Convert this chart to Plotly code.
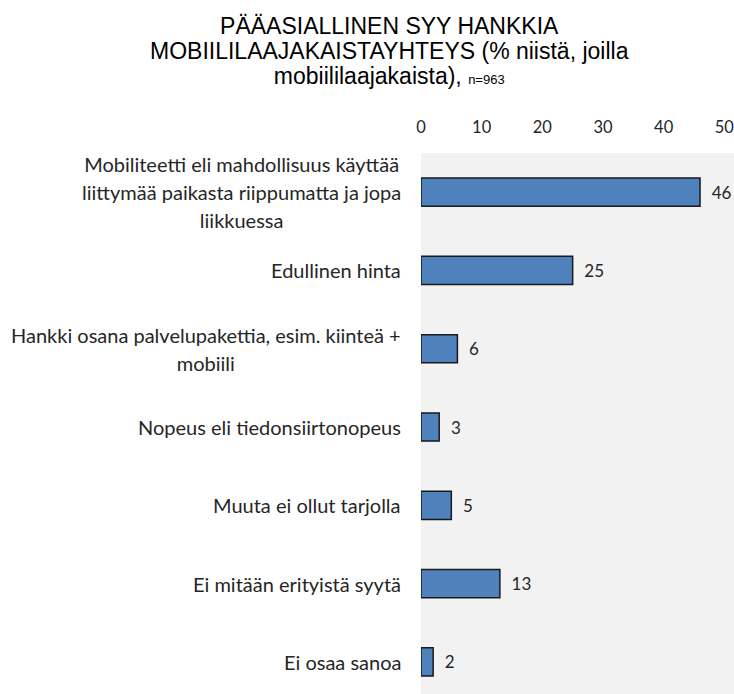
import plotly.graph_objects as go

categories = [
    "Mobiliteetti eli mahdollisuus käyttää<br>liittymää paikasta riippumatta ja jopa<br>liikkuessa",
    "Edullinen hinta",
    "Hankki osana palvelupakettia, esim. kiinteä +<br>mobiili",
    "Nopeus eli tiedonsiirtonopeus",
    "Muuta ei ollut tarjolla",
    "Ei mitään erityistä syytä",
    "Ei osaa sanoa",
]
values = [46, 25, 6, 3, 5, 13, 2]
x_ticks = [0, 10, 20, 30, 40, 50]

title_lines = ["PÄÄASIALLINEN SYY HANKKIA",
               "MOBIILILAAJAKAISTAYHTEYS (% niistä, joilla",
               "mobiililaajakaista), <span style='font-size:13px'>n=963</span>"]

LABEL_FONT = "Lato, 'Open Sans', sans-serif"
TEXT_COLOR = "#262626"

fig = go.Figure()
fig.add_trace(go.Bar(
    y=list(range(len(categories))),
    x=values,
    orientation="h",
    width=0.36,
    marker=dict(color="#4F81BD", line=dict(color="#1a1a1a", width=1.5)),
    text=values,
    texttemplate="\u00a0\u00a0%{x}",
    textposition="outside",
    constraintext="none",
    cliponaxis=False,
    textfont=dict(family=LABEL_FONT, size=17, color=TEXT_COLOR),
    hoverinfo="skip",
))

annotations = []
for i, cat in enumerate(categories):
    lines = cat.split("<br>")
    txt = "<br>".join(f"<span style='font-size:20px'>{ln}</span>" for ln in lines)
    annotations.append(dict(
        x=0, xref="paper", xshift=-18,
        y=i, yref="y",
        text=txt, showarrow=False,
        xanchor="right", yanchor="middle", align="center",
        font=dict(family=LABEL_FONT, size=21.5, color=TEXT_COLOR),
    ))

title_txt = "<br>".join(f"<span style='font-size:23px'>{ln}</span>" for ln in title_lines)
annotations.append(dict(
    x=0, xref="paper", xanchor="center", xshift=389 - 421,
    y=1, yref="paper", yanchor="top", yshift=153 - 11,
    text=title_txt, showarrow=False, align="center",
    font=dict(family="Liberation Sans, Arial, sans-serif", size=19.2, color="#000000"),
))

fig.update_layout(
    width=734, height=694,
    margin=dict(l=421, r=0, t=153, b=0, pad=0),
    paper_bgcolor="white",
    plot_bgcolor="#F2F2F2",
    showlegend=False,
    xaxis=dict(
        range=[0, 51.6],
        tickvals=x_ticks,
        side="top",
        showgrid=False, zeroline=False, showline=False,
        ticks="",
        ticklabelstandoff=16,
        ticklabeloverflow="allow",
        tickfont=dict(family=LABEL_FONT, size=16.5, color=TEXT_COLOR),
        fixedrange=True,
    ),
    yaxis=dict(
        range=[6.41, -0.5],
        showticklabels=False,
        showgrid=False, zeroline=False, showline=False,
        ticks="",
        fixedrange=True,
    ),
    annotations=annotations,
)

fig.write_html(
    "out.html",
    config={"displayModeBar": False},
    post_script="document.body.style.margin='0px';document.body.style.overflow='hidden';",
)
